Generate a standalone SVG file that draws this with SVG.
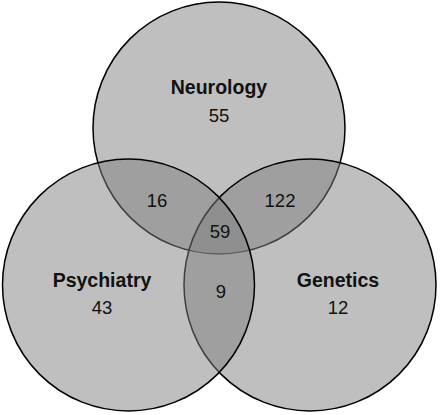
<svg xmlns="http://www.w3.org/2000/svg" width="440" height="415" viewBox="0 0 440 415">
<style>
.set{fill:#808080;fill-opacity:0.5;stroke:#000;stroke-width:1.5}
.lbl{font-family:"Liberation Sans",Arial,sans-serif;font-size:19.5px;font-weight:bold;fill:#111;text-anchor:middle}
.num{font-family:"Liberation Sans",Arial,sans-serif;font-size:18.5px;fill:#111;text-anchor:middle}
</style>
<rect width="440" height="415" fill="#fff"/>
<g id="neurology"><circle class="set" cx="219" cy="128" r="126"/></g>
<g id="genetics"><circle class="set" cx="310" cy="285" r="126"/></g>
<g id="psychiatry"><circle class="set" cx="128.5" cy="285" r="126"/></g>
<g id="labels">
<text class="lbl" x="219" y="94">Neurology</text>
<text class="num" x="219" y="122">55</text>
<text class="lbl" x="102" y="287">Psychiatry</text>
<text class="num" x="102" y="314">43</text>
<text class="lbl" x="338" y="287">Genetics</text>
<text class="num" x="338" y="314">12</text>
<text class="num" x="157" y="207">16</text>
<text class="num" x="280" y="207">122</text>
<text class="num" x="220" y="238">59</text>
<text class="num" x="221" y="298">9</text>
</g>
</svg>
